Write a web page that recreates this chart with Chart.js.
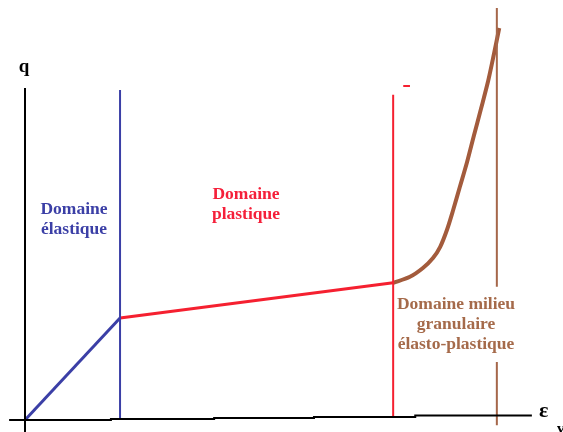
<!DOCTYPE html>
<html>
<head>
<meta charset="utf-8">
<script src="https://cdn.jsdelivr.net/npm/chart.js@4/dist/chart.umd.min.js"></script>
<style>
  html, body { margin: 0; padding: 0; background: #fff; }
  #wrap { position: relative; width: 563px; height: 432px; }
</style>
</head>
<body>
<div id="wrap"><canvas id="domain-chart"></canvas></div>
<script>
// strain (eps) and deviator (q) in arbitrary units
const elasticEps = [0, 1.98];
const elasticQ = [0, 2.55];

const plasticEps = [1.98, 7.67];
const plasticQ = [2.55, 3.43];

const granularEps = [7.67, 8.02, 8.29, 8.50, 8.65, 8.79, 8.92, 9.06, 9.21, 9.35, 9.50, 9.65, 9.77, 9.88];
const granularQ = [3.43, 3.58, 3.80, 4.05, 4.33, 4.75, 5.25, 5.83, 6.45, 7.10, 7.78, 8.48, 9.15, 9.80];

// domain boundaries
const blueBoundEps = [1.98, 1.98];
const blueBoundQ = [0, 8.25];
const redBoundEps = [7.67, 7.67];
const redBoundQ = [0.05, 8.13];
const redMarkEps = [7.88, 8.02];
const redMarkQ = [8.35, 8.35];
const brownBoundEps = [9.83, 9.83, 9.83, 9.83, 9.83];
const brownBoundQ = [10.3, 3.33, null, 1.45, -0.13];

// hand drawn axes
const xAxisEps = [-0.31, 1.79, 3.94, 6.02, 8.13, 10.21, 10.56];
const xAxisQ = [-0.025, 0, 0.025, 0.05, 0.075, 0.11, 0.11];
const yAxisEps = [0, 0];
const yAxisQ = [-0.3, 8.3];

function pts(xs, ys) {
    return xs.map((x, i) => ({x: x, y: ys[i]}));
}

function line(xs, ys, color, width, extra) {
    return Object.assign({
        data: pts(xs, ys),
        borderColor: color,
        backgroundColor: color,
        borderWidth: width,
        pointRadius: 0,
        showLine: true,
        spanGaps: false,
        fill: false
    }, extra || {});
}

const labelsPlugin = {
    id: "labels",
    afterDraw(chart) {
        const ctx = chart.ctx;
        ctx.save();
        ctx.textAlign = "center";
        ctx.textBaseline = "alphabetic";
        ctx.font = "bold 17.5px 'Liberation Serif', serif";

        ctx.fillStyle = "#3b3fa6";
        ctx.fillText("Domaine", 74, 214);
        ctx.fillText("élastique", 74, 234);

        ctx.fillStyle = "#f5203a";
        ctx.fillText("Domaine", 246, 199);
        ctx.fillText("plastique", 246, 219);

        ctx.fillStyle = "#a56a4a";
        ctx.fillText("Domaine milieu", 456, 309);
        ctx.fillText("granulaire", 456, 329);
        ctx.fillText("élasto-plastique", 456, 349);

        ctx.fillStyle = "#000";
        ctx.font = "bold 19px 'Liberation Serif', serif";
        ctx.fillText("q", 24, 72);
        ctx.font = "bold 22px 'Liberation Serif', serif";
        ctx.textAlign = "left";
        ctx.fillText("ε", 539, 417);
        ctx.font = "bold 15px 'Liberation Serif', serif";
        ctx.fillText("v", 557, 433);
        ctx.restore();
    }
};

const ctx = document.getElementById("domain-chart");

new Chart(ctx, {
    type: "scatter",
    data: {
        datasets: [
            line(xAxisEps, xAxisQ, "#000", 2, {stepped: "after"}),
            line(yAxisEps, yAxisQ, "#000", 2),
            line(blueBoundEps, blueBoundQ, "#3b3fa6", 2),
            line(redBoundEps, redBoundQ, "#f52030", 2),
            line(redMarkEps, redMarkQ, "#f52030", 2),
            line(brownBoundEps, brownBoundQ, "#a5674a", 2),
            line(elasticEps, elasticQ, "#3b3fa6", 3),
            line(plasticEps, plasticQ, "#f52030", 3),
            line(granularEps, granularQ, "#a35b3c", 4, {tension: 0.3})
        ]
    },
    options: {
        responsive: true,
        maintainAspectRatio: false,
        animation: false,
        layout: { padding: 0 },
        plugins: {
            legend: { display: false },
            tooltip: { enabled: false }
        },
        scales: {
            x: { type: "linear", min: -25 / 48, max: 538 / 48, display: false },
            y: { type: "linear", min: -0.3, max: 10.5, display: false }
        }
    },
    plugins: [labelsPlugin]
});
</script>
</body>
</html>
